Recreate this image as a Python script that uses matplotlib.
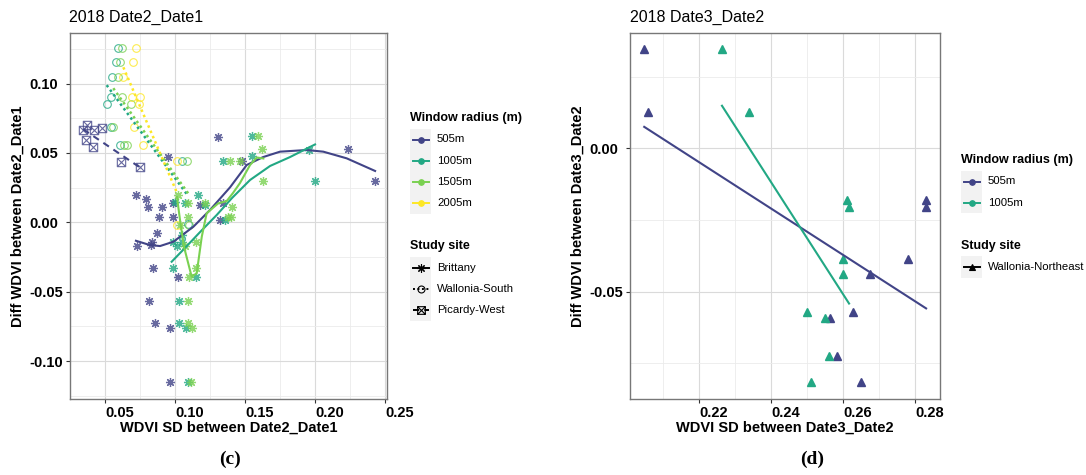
import numpy as np
import matplotlib
matplotlib.use("Agg")
import matplotlib.pyplot as plt
from matplotlib.lines import Line2D
from matplotlib.patches import Rectangle
from matplotlib.path import Path

plt.rcParams['font.family'] = ['Liberation Sans', 'DejaVu Sans']
plt.rcParams['axes.unicode_minus'] = False

# ---------------- data : panel (c) 2018 Date2_Date1 ----------------
radii = ["505m", "1005m", "1505m", "2005m"]
radius_colors = ["#414487", "#22A884", "#7AD151", "#FDE725"]

# Brittany (asterisks)
brit_505_x = [0.0721, 0.0793, 0.0809, 0.0905, 0.0886, 0.0988, 0.0988, 0.0952, 0.1309, 0.1179,
              0.1321, 0.1345, 0.0869, 0.0834, 0.0731, 0.0826, 0.0841, 0.1024, 0.0816, 0.0857,
              0.0964, 0.0964, 0.1476, 0.2238, 0.2429]
brit_505_y = [0.0197, 0.0166, 0.0112, 0.0112, 0.0036, 0.0141, 0.0036, 0.0473, 0.0617, 0.0125,
              0.0017, 0.0137, -0.0075, -0.0140, -0.0171, -0.0164, -0.0331, -0.0392, -0.0565, -0.0728,
              -0.0759, -0.1153, 0.0444, 0.0526, 0.0298]
brit_1005_x = [0.1345, 0.1000, 0.1071, 0.1166, 0.1357, 0.0988, 0.1048, 0.1014, 0.0988, 0.1150,
               0.1031, 0.1031, 0.1079, 0.1095, 0.1548, 0.1548, 0.1959, 0.2000, 0.1214, 0.1050]
brit_1005_y = [0.0442, 0.0144, 0.0141, 0.0197, 0.0017, -0.0140, -0.0140, -0.0171, -0.0331, -0.0392,
               -0.0565, -0.0728, -0.0759, -0.1153, 0.0622, 0.0478, 0.0521, 0.0298, 0.0125, -0.0091]
brit_1505_x = [0.1393, 0.1464, 0.1024, 0.1095, 0.1214, 0.1095, 0.1381, 0.1071, 0.1150, 0.1150,
               0.1102, 0.1095, 0.1095, 0.1119, 0.1114, 0.1595, 0.1619, 0.1631, 0.1405, 0.1400, 0.1036]
brit_1505_y = [0.0442, 0.0442, 0.0197, 0.0141, 0.0141, 0.0036, 0.0036, -0.0171, -0.0140, -0.0331,
               -0.0392, -0.0565, -0.0728, -0.0759, -0.1153, 0.0622, 0.0526, 0.0298, 0.0108, 0.0036, -0.0019]

# Brittany smooth curves
smooth_505_x = [0.0721, 0.0821, 0.0893, 0.0988, 0.1131, 0.1250, 0.1393, 0.1512, 0.1629, 0.1750,
                0.1941, 0.2059, 0.2226, 0.2429]
smooth_505_y = [-0.0133, -0.0164, -0.0171, -0.0140, -0.0032, 0.0089, 0.0252, 0.0413, 0.0470, 0.0509,
                0.0521, 0.0509, 0.0461, 0.0370]
smooth_1005_x = [0.0976, 0.1071, 0.1179, 0.1298, 0.1407, 0.1536, 0.1679, 0.1821, 0.2000]
smooth_1005_y = [-0.0284, -0.0185, -0.0070, 0.0053, 0.0175, 0.0305, 0.0406, 0.0470, 0.0561]
smooth_1505_x = [0.1014, 0.1036, 0.1064, 0.1119, 0.1155, 0.1191, 0.1226, 0.1309, 0.1369, 0.1414,
                 0.1464, 0.1536, 0.1584, 0.1631]
smooth_1505_y = [0.0182, 0.0015, -0.0176, -0.0392, -0.0367, -0.0104, 0.0065, 0.0137, 0.0153, 0.0211,
                 0.0283, 0.0413, 0.0467, 0.0460]

# Wallonia-South (open circles)
ws_1005_x = [0.0591, 0.0579, 0.0552, 0.0543, 0.0512, 0.0541, 0.0607, 0.1048, 0.1095]
ws_1005_y = [0.1254, 0.1153, 0.1049, 0.0905, 0.0852, 0.0689, 0.0557, 0.0442, -0.0010]
ws_1505_x = [0.0619, 0.0607, 0.0591, 0.0619, 0.0684, 0.0559, 0.0636, 0.0655, 0.1088, 0.1102]
ws_1505_y = [0.1254, 0.1153, 0.1049, 0.0905, 0.0852, 0.0689, 0.0557, 0.0557, 0.0442, -0.0019]
ws_2005_x = [0.0721, 0.0698, 0.0631, 0.0691, 0.0750, 0.0745, 0.0707, 0.0769, 0.1016, 0.1016]
ws_2005_y = [0.1254, 0.1153, 0.1049, 0.0905, 0.0905, 0.0852, 0.0689, 0.0557, 0.0442, -0.0019]

# Picardy-West (squares with cross), 505m
pw_505_x = [0.0369, 0.0345, 0.0424, 0.0481, 0.0364, 0.0416, 0.0612, 0.0750]
pw_505_y = [0.0701, 0.0665, 0.0665, 0.0677, 0.0593, 0.0540, 0.0437, 0.0401]

# ---------------- data : panel (d) 2018 Date3_Date2 ----------------
wn_505_x = [0.2047, 0.2057, 0.2830, 0.2830, 0.2780, 0.2674, 0.2628, 0.2563, 0.2583, 0.2648]
wn_505_y = [0.0346, 0.0128, -0.0180, -0.0203, -0.0385, -0.0437, -0.0570, -0.0590, -0.0725, -0.0815]
wn_1005_x = [0.2263, 0.2338, 0.2611, 0.2616, 0.2600, 0.2600, 0.2500, 0.2549, 0.2560, 0.2509]
wn_1005_y = [0.0346, 0.0128, -0.0180, -0.0203, -0.0385, -0.0437, -0.0570, -0.0590, -0.0725, -0.0815]

xticks_c = [0.05, 0.10, 0.15, 0.20, 0.25]
yticks_c = [-0.10, -0.05, 0.00, 0.05, 0.10]
xticks_d = [0.22, 0.24, 0.26, 0.28]
yticks_d = [-0.05, 0.00]

# ---------------- figure ----------------
W, H = 1086, 475
fig = plt.figure(figsize=(W / 100, H / 100), dpi=100)


def fbox(x0, y0, x1, y1):
    return [x0 / W, 1 - y1 / H, (x1 - x0) / W, (y1 - y0) / H]


def fx(x):
    return x / W


def fy(y):
    return 1 - y / H


axL = fig.add_axes(fbox(70, 33, 387, 399))
axR = fig.add_axes(fbox(630, 33, 940, 399))

sq_cross = Path([(-1, -1), (1, -1), (1, 1), (-1, 1), (-1, -1), (-1, -1), (1, 1), (-1, 1), (1, -1)],
                [Path.MOVETO, Path.LINETO, Path.LINETO, Path.LINETO, Path.CLOSEPOLY,
                 Path.MOVETO, Path.LINETO, Path.MOVETO, Path.LINETO])
asterisk = (8, 2, 0)
dotted = (0, (1.0, 1.3))
dashed = (0, (3.2, 2.6))
col = dict(zip(radii, radius_colors))


def lm_line(x, y):
    x = np.asarray(x)
    b, a = np.polyfit(x, np.asarray(y), 1)
    xs = np.array([x.min(), x.max()])
    return xs, a + b * xs


def style_axes(ax, xt, yt, xminor, yminor, xlim, ylim):
    ax.set_xlim(*xlim)
    ax.set_ylim(*ylim)
    ax.set_xticks(xt)
    ax.set_yticks(yt)
    ax.set_xticks(xminor, minor=True)
    ax.set_yticks(yminor, minor=True)
    ax.set_xticklabels([f"{v:.2f}" for v in xt], ha='left')
    ax.set_yticklabels([f"{v:.2f}" for v in yt], ha='left')
    ax.grid(True, which='major', color='#DADADA', lw=0.8)
    ax.grid(True, which='minor', color='#EBEBEB', lw=0.6)
    ax.set_axisbelow(True)
    ax.tick_params(which='major', length=3, width=0.8, color='#333333',
                   labelsize=10.5, labelcolor='black')
    ax.tick_params(axis='x', which='major', pad=2)
    ax.tick_params(axis='y', which='major', pad=26)
    ax.tick_params(which='minor', length=0)
    for lab in ax.get_xticklabels() + ax.get_yticklabels():
        lab.set_fontweight('bold')
    for s in ax.spines.values():
        s.set_color('#777777')
        s.set_linewidth(1.0)


style_axes(axL, xticks_c, yticks_c, [0.075, 0.125, 0.175, 0.225],
           [-0.125, -0.075, -0.025, 0.025, 0.075, 0.125], (0.025, 0.2514), (-0.1273, 0.1364))
style_axes(axR, xticks_d, yticks_d, [0.21, 0.23, 0.25, 0.27],
           [-0.075, -0.025, 0.025], (0.20075, 0.28686), (-0.0874, 0.0402))

# ---- panel (c) points ----
pt_alpha = 0.8
for xs, ys, r in [(brit_505_x, brit_505_y, "505m"), (brit_1005_x, brit_1005_y, "1005m"),
                  (brit_1505_x, brit_1505_y, "1505m")]:
    axL.plot(xs, ys, ls='none', marker=asterisk, ms=6.5, mew=0.9, color=col[r], alpha=pt_alpha)
for xs, ys, r in [(ws_1005_x, ws_1005_y, "1005m"), (ws_1505_x, ws_1505_y, "1505m"),
                  (ws_2005_x, ws_2005_y, "2005m")]:
    axL.plot(xs, ys, ls='none', marker='o', ms=5.5, mew=0.8, mfc='none', mec=col[r], alpha=pt_alpha)
axL.plot(pw_505_x, pw_505_y, ls='none', marker=sq_cross, ms=6, mew=0.8, mfc='none',
         mec=col["505m"], alpha=pt_alpha)

# ---- panel (c) fits ----
lw_fit = 1.5
axL.plot(smooth_505_x, smooth_505_y, color=col["505m"], lw=lw_fit)
axL.plot(smooth_1005_x, smooth_1005_y, color=col["1005m"], lw=lw_fit)
axL.plot(smooth_1505_x, smooth_1505_y, color=col["1505m"], lw=lw_fit)
for xs, ys, r in [(ws_1005_x, ws_1005_y, "1005m"), (ws_1505_x, ws_1505_y, "1505m"),
                  (ws_2005_x, ws_2005_y, "2005m")]:
    lx, ly = lm_line(xs, ys)
    axL.plot(lx, ly, color=col[r], lw=lw_fit + 0.3, ls=dotted)
lx, ly = lm_line(pw_505_x, pw_505_y)
axL.plot(lx, ly, color=col["505m"], lw=lw_fit, ls=dashed)

# ---- panel (d) ----
for xs, ys, r in [(wn_505_x, wn_505_y, "505m"), (wn_1005_x, wn_1005_y, "1005m")]:
    axR.plot(xs, ys, ls='none', marker='^', ms=5.5, color=col[r])
for xs, ys, r in [(wn_505_x, wn_505_y, "505m"), (wn_1005_x, wn_1005_y, "1005m")]:
    lx, ly = lm_line(xs, ys)
    axR.plot(lx, ly, color=col[r], lw=lw_fit)

# ---- titles and axis labels ----
fig.text(fx(69), fy(17), "2018 Date2_Date1", fontsize=11.5, ha='left', va='center')
fig.text(fx(630), fy(17), "2018 Date3_Date2", fontsize=11.5, ha='left', va='center')
fig.text(fx(228.5), fy(428), "WDVI SD between Date2_Date1", fontsize=10.5, fontweight='bold',
         ha='center', va='center')
fig.text(fx(785), fy(428), "WDVI SD between Date3_Date2", fontsize=10.5, fontweight='bold',
         ha='center', va='center')
fig.text(fx(18), fy(216), "Diff WDVI between Date2_Date1", fontsize=10.5, fontweight='bold',
         ha='center', va='center', rotation=90)
fig.text(fx(578), fy(216), "Diff WDVI between Date3_Date2", fontsize=10.5, fontweight='bold',
         ha='center', va='center', rotation=90)
fig.text(fx(230), fy(459), "(c)", fontsize=14, fontweight='bold', family='Liberation Serif',
         ha='center', va='center')
fig.text(fx(812), fy(459), "(d)", fontsize=14, fontweight='bold', family='Liberation Serif',
         ha='center', va='center')


# ---- legends ----
def draw_legend(x0, title_y, title, entries, first_y, row_h=21.2, key_w=21):
    fig.text(fx(x0), fy(title_y), title, fontsize=9, fontweight='bold', ha='left', va='center')
    n = len(entries)
    top = first_y - row_h / 2
    fig.add_artist(Rectangle((fx(x0), fy(top + n * row_h)), key_w / W, n * row_h / H,
                             transform=fig.transFigure, facecolor='#F2F2F2', edgecolor='none'))
    for i, (label, color, marker, ls, mfc, ms) in enumerate(entries):
        yc = first_y + i * row_h
        fig.add_artist(Line2D([fx(x0 + 2.5), fx(x0 + key_w - 2.5)], [fy(yc), fy(yc)],
                              transform=fig.transFigure, color=color, lw=1.4, ls=ls))
        fig.add_artist(Line2D([fx(x0 + key_w / 2)], [fy(yc)], transform=fig.transFigure,
                              ls='none', marker=marker, ms=ms, mew=0.8, color=color,
                              mfc=mfc, mec=color))
        fig.text(fx(x0 + key_w + 6), fy(yc), label, fontsize=8.2, ha='left', va='center')


draw_legend(410, 118, "Window radius (m)",
            [(r, col[r], 'o', '-', col[r], 4) for r in radii], 139.5)
draw_legend(410, 246, "Study site",
            [("Brittany", 'black', asterisk, '-', 'black', 6),
             ("Wallonia-South", 'black', 'o', dotted, 'none', 5),
             ("Picardy-West", 'black', sq_cross, dashed, 'none', 5.5)], 268)
draw_legend(961, 160, "Window radius (m)",
            [(r, col[r], 'o', '-', col[r], 4) for r in radii[:2]], 181.5)
draw_legend(961, 246.5, "Study site",
            [("Wallonia-Northeast", 'black', '^', '-', 'black', 5)], 267)

fig.savefig("out.png", dpi=100)
